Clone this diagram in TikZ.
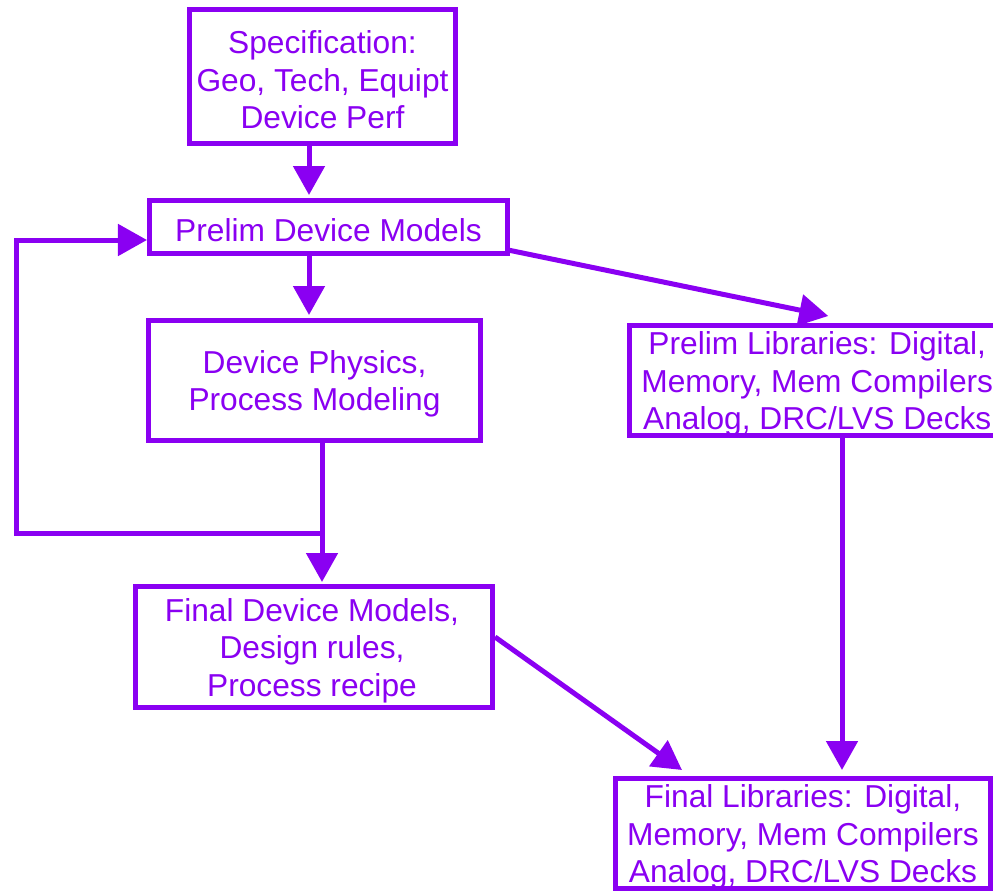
\documentclass[tikz,border=0pt]{standalone}
\usepackage{fontspec}
\setmainfont{Liberation Sans}
\usetikzlibrary{arrows.meta}
\definecolor{flow}{RGB}{138,0,242}
\tikzset{
  box/.style={draw=flow, line width=5bp, fill=white, inner sep=0pt},
  txt/.style={inner sep=0pt, align=center, text=flow,
    font=\fontsize{31.7bp}{37.5bp}\selectfont},
  arr/.style={draw=flow, line width=5bp, line join=miter,
    -{Triangle[length=29bp,width=31bp]}},
}
\begin{document}
\begin{tikzpicture}[x=1bp,y=-1bp]
\useasboundingbox (0,0) rectangle (993,891);
\clip (0,0) rectangle (993,891);
\fill[white] (0,0) rectangle (993,891);

% process boxes
\node[box, minimum width=266bp, minimum height=134bp] (spec) at (322.5,76.5) {};
\node[box, minimum width=358bp, minimum height=53bp] (prelimdev) at (328.5,227) {};
\node[box, minimum width=332bp, minimum height=120bp] (devphys) at (314.5,380.5) {};
\node[box, minimum width=375.5bp, minimum height=110bp] (prelimlib) at (817.25,380.5) {};
\node[box, minimum width=357bp, minimum height=121bp] (finaldev) at (314,647) {};
\node[box, minimum width=375bp, minimum height=110bp] (finallib) at (803,833.5) {};

% box captions, set a little below the box centres
\node[txt] (specT) at ([yshift=-3.5bp]spec.center)
  {Specification:\\Geo, Tech, Equipt\\Device Perf};
\node[txt] (prelimdevT) at ([yshift=-3.5bp]prelimdev.center)
  {Prelim Device Models};
\node[txt] (devphysT) at ([yshift=-3.5bp]devphys.center)
  {Device Physics,\\Process Modeling};
\node[txt] (prelimlibT) at ([yshift=-3.5bp]prelimlib.center)
  {Prelim Libraries: Digital,\\Memory, Mem Compilers\\Analog, DRC/LVS Decks};
\node[txt] (finaldevT) at ([xshift=-2bp,yshift=-3.5bp]finaldev.center)
  {Final Device Models,\\Design rules,\\Process recipe};
\node[txt] (finallibT) at ([yshift=-3.5bp]finallib.center)
  {Final Libraries: Digital,\\Memory, Mem Compilers\\Analog, DRC/LVS Decks};

% columns used by the vertical connectors
\coordinate (colA) at (309,0);
\coordinate (colB) at (322,0);
\coordinate (colC) at (842,0);
% feedback loop
\coordinate (junc) at (322,533);
\coordinate (loopA) at (16,533);
\coordinate (loopB) at (16,240);

\draw[arr, shorten >=3bp] (spec.south -| colA) -- (prelimdev.north -| colA);
\draw[arr, shorten >=3bp] (prelimdev.south -| colA) -- (devphys.north -| colA);
\draw[arr, shorten >=2bp] (devphys.south -| colB) -- (finaldev.north -| colB);
\draw[arr] (junc) -- (loopA) -- (loopB) -- (prelimdev.west |- loopB);
\draw[arr] ([xshift=-2bp,yshift=-23bp]prelimdev.east)
  -- ([xshift=11bp,yshift=7bp]prelimlib.north);
\draw[arr, shorten >=6bp] (prelimlib.south -| colC) -- (finallib.north -| colC);
\draw[arr] ([yshift=10bp]finaldev.east)
  -- ([xshift=-121bp,yshift=6bp]finallib.north);
\end{tikzpicture}
\end{document}
